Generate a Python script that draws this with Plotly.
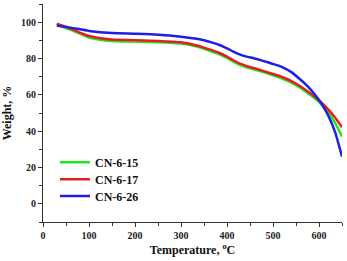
import plotly.graph_objects as go

temp = [30, 60, 100, 150, 200, 250, 300, 330, 350, 370, 385, 400, 415, 430, 445, 460,
        500, 520, 540, 560, 575, 590, 605, 620, 635, 650]
cn615 = [98.6, 95.8, 91.6, 89.6, 89.3, 89.0, 88.2, 86.8, 85.3, 83.6, 82.2, 80.3, 78.2, 76.3, 74.9, 73.9,
         70.8, 69.0, 66.7, 63.8, 61.0, 58.2, 54.8, 50.3, 44.5, 37.0]
cn617 = [99.1, 96.5, 92.4, 90.4, 90.1, 89.7, 88.9, 87.4, 86.0, 84.3, 82.9, 81.0, 78.9, 77.0, 75.6, 74.6,
         71.5, 69.8, 67.6, 64.6, 62.0, 59.2, 55.8, 52.0, 47.5, 42.2]
cn626 = [98.1, 97.0, 95.2, 94.0, 93.6, 93.1, 92.0, 91.0, 90.0, 88.6, 87.3, 85.6, 83.6, 82.0, 80.9, 80.0,
         77.0, 75.3, 72.5, 68.3, 64.8, 60.5, 55.3, 48.6, 39.5, 26.0]

names = ["CN-6-15", "CN-6-17", "CN-6-26"]
colors = ["#1ee61e", "#e61e1e", "#1e1ee6"]
series = [cn615, cn617, cn626]
legend_ids = ["legend", "legend2", "legend3"]

SERIF = "Times New Roman, Liberation Serif, serif"

fig = go.Figure()
for n, c, s, lg in zip(names, colors, series, legend_ids):
    fig.add_trace(go.Scatter(x=temp, y=s, name=n, mode="lines", legend=lg,
                             line=dict(color=c, width=2.5, shape="spline", smoothing=0.6)))

axis_common = dict(showline=True, linecolor="#333", linewidth=1.2, ticks="outside",
                   ticklen=4, tickwidth=1, tickcolor="#333", showgrid=False, zeroline=False,
                   mirror=False,
                   tickfont=dict(family=SERIF, size=10, color="#222", weight="bold"))

leg_common = dict(xanchor="left", yanchor="middle", x=0.04,
                  font=dict(family=SERIF, size=12, color="#111", weight="bold"),
                  bgcolor="rgba(0,0,0,0)", itemwidth=30)

fig.update_layout(
    width=347, height=261,
    margin=dict(l=43, r=5, t=4, b=39),
    plot_bgcolor="white", paper_bgcolor="white",
    showlegend=True,
    legend=dict(y=0.274, **leg_common),
    legend2=dict(y=0.196, **leg_common),
    legend3=dict(y=0.119, **leg_common),
    xaxis=dict(range=[0, 650], tickvals=[0, 100, 200, 300, 400, 500, 600],
               minor=dict(ticks="outside", ticklen=2.5, dtick=50, tickcolor="#333"),
               title=dict(text="Temperature, <sup>o</sup>C",
                          font=dict(family=SERIF, size=12, color="#111", weight="bold"), standoff=5),
               **axis_common),
    yaxis=dict(range=[-10, 110], tickvals=[0, 20, 40, 60, 80, 100],
               minor=dict(ticks="outside", ticklen=2.5, dtick=10, tickcolor="#333"),
               title=dict(text="Weight, %",
                          font=dict(family=SERIF, size=12, color="#111", weight="bold"), standoff=6),
               **axis_common),
)

fig.write_html("out.html")
